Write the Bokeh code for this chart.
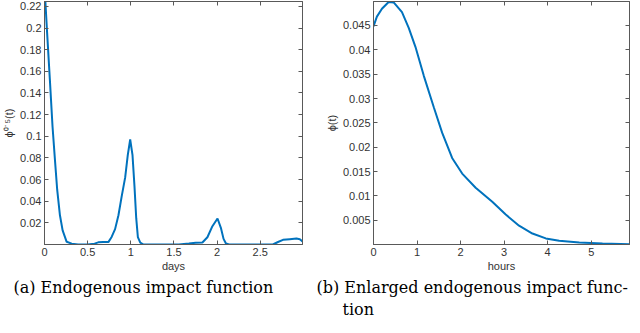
from bokeh.plotting import figure
from bokeh.models import Range1d, FixedTicker, LinearAxis, Title
from bokeh.layouts import row
from bokeh.embed import file_html
from bokeh.resources import INLINE

# ---------------- data ----------------
# (a) endogenous impact function, x in days
days = [0.0, 0.01, 0.03, 0.062, 0.093, 0.12, 0.147, 0.179, 0.21, 0.257, 0.315, 0.389,
        0.5, 0.58, 0.623, 0.68, 0.74, 0.778, 0.818, 0.857, 0.895, 0.935, 0.965, 0.993,
        1.02, 1.043, 1.063, 1.082, 1.11, 1.148, 1.3, 1.557, 1.674, 1.752, 1.83, 1.888,
        1.946, 2.005, 2.044, 2.075, 2.103, 2.14, 2.4, 2.647, 2.706, 2.764, 2.842, 2.92,
        2.959, 2.99]
phi05 = [0.2136, 0.2245, 0.196, 0.1526, 0.109, 0.0794, 0.0506, 0.027, 0.013, 0.0025, 0.0008, 0.0,
         0.0, 0.0008, 0.002, 0.0022, 0.0022, 0.007, 0.0142, 0.027, 0.0447, 0.062, 0.0825, 0.097,
         0.0825, 0.0535, 0.0243, 0.0069, 0.0017, 0.0, 0.0, 0.0, 0.0009, 0.0017, 0.0019, 0.0067,
         0.0169, 0.024, 0.0154, 0.0052, 0.0009, 0.0, 0.0, 0.0, 0.0023, 0.0043, 0.0049, 0.0055,
         0.0049, 0.0029]

# (b) enlarged endogenous impact function, x in hours
hours = [0.0, 0.078, 0.194, 0.348, 0.463, 0.654, 0.809, 0.963, 1.154, 1.385, 1.576, 1.806,
         2.037, 2.346, 2.728, 3.037, 3.343, 3.65, 3.958, 4.265, 4.726, 5.26, 5.88]
phi = [0.0448, 0.0468, 0.0484, 0.0498, 0.0497, 0.0477, 0.0445, 0.0406, 0.0347, 0.0282, 0.023,
       0.0178, 0.0146, 0.0117, 0.0088, 0.0062, 0.0039, 0.0023, 0.0013, 0.0008, 0.00045,
       0.00025, 0.0001]

# tick values and labels
a_xticks = [0, 0.5, 1, 1.5, 2, 2.5]
a_xlabels = ["0", "0.5", "1", "1.5", "2", "2.5"]
a_yticks = [0.02, 0.04, 0.06, 0.08, 0.1, 0.12, 0.14, 0.16, 0.18, 0.2, 0.22]
a_ylabels = ["0.02", "0.04", "0.06", "0.08", "0.1", "0.12", "0.14", "0.16", "0.18", "0.2", "0.22"]
b_xticks = [0, 1, 2, 3, 4, 5]
b_xlabels = ["0", "1", "2", "3", "4", "5"]
b_yticks = [0.005, 0.01, 0.015, 0.02, 0.025, 0.03, 0.035, 0.04, 0.045]
b_ylabels = ["0.005", "0.01", "0.015", "0.02", "0.025", "0.03", "0.035", "0.04", "0.045"]

caption_a = ["(a) Endogenous impact function"]
caption_b = ["(b) Enlarged endogenous impact func-", "tion"]

LINE = "#0072BD"
AX = "#595959"
TXT = "#333333"
FONT = "Liberation Sans"
SERIF = "DejaVu Serif"
FIG_H = 317
BOTTOM = 66


def style_axis(ax, ticks, labels, show_labels=True):
    ax.ticker = FixedTicker(ticks=ticks)
    ax.axis_line_color = AX
    ax.major_tick_line_color = AX
    ax.major_tick_in = 4
    ax.major_tick_out = 0
    ax.minor_tick_line_color = None
    ax.major_label_text_font = FONT
    ax.major_label_text_font_size = "11px"
    ax.major_label_text_color = TXT
    ax.axis_label_text_font = FONT
    ax.axis_label_text_font_size = "11px"
    ax.axis_label_text_font_style = "normal"
    ax.axis_label_text_color = TXT
    if show_labels:
        ax.major_label_overrides = dict(zip(ticks, labels))
        ax.major_label_standoff = 3
    else:
        ax.major_label_overrides = {t: "" for t in ticks}
        ax.major_label_text_font_size = "0px"
        ax.major_label_text_color = None
        ax.major_label_standoff = 0


def make_panel(x, y, xr, yr, xt, xl, yt, yl, xlabel, ylabel, width, bl, br, captions, offsets):
    p = figure(width=width, height=FIG_H, x_range=Range1d(*xr), y_range=Range1d(*yr),
               output_backend="svg", toolbar_location=None,
               min_border_left=bl, min_border_right=br, min_border_top=1,
               min_border_bottom=BOTTOM)
    p.xgrid.visible = False
    p.ygrid.visible = False
    p.outline_line_color = AX
    p.background_fill_color = "white"
    p.border_fill_color = "white"
    style_axis(p.xaxis[0], xt, xl)
    style_axis(p.yaxis[0], yt, yl)
    p.xaxis[0].axis_label = xlabel
    p.xaxis[0].axis_label_standoff = 1
    p.yaxis[0].axis_label = ylabel
    p.yaxis[0].axis_label_standoff = 2
    top = LinearAxis()
    style_axis(top, xt, xl, show_labels=False)
    p.add_layout(top, "above")
    right = LinearAxis()
    style_axis(right, yt, yl, show_labels=False)
    p.add_layout(right, "right")
    for i, (txt, off) in enumerate(zip(captions, offsets)):
        t = Title(text=txt, align="left", offset=off, text_font=SERIF,
                  text_font_size="16px", text_font_style="normal", text_color="#000000",
                  standoff=(3 if i == 0 else -2))
        p.add_layout(t, "below")
    p.line(x, y, line_color=LINE, line_width=2)
    return p


p1 = make_panel(days, phi05, (0, 2.99), (0, 0.2245), a_xticks, a_xlabels, a_yticks, a_ylabels,
                "days", "\u03d5\u2070\u02d9\u2075(t)", 306, 38, 4, caption_a, [-31])
p2 = make_panel(hours, phi, (0, 5.88), (0.00005, 0.0499), b_xticks, b_xlabels, b_yticks, b_ylabels,
                "hours", "\u03d5(t)", 325, 67, 2, caption_b, [-57, -31])

layout = row(p1, p2, spacing=0)

open("out.html", "w").write(file_html(layout, INLINE))
